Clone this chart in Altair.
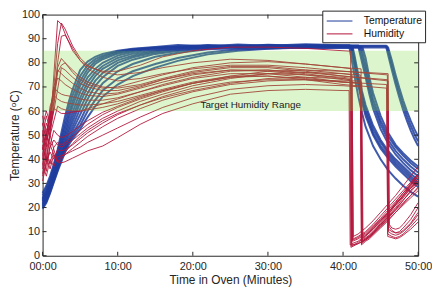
import altair as alt
import pandas as pd

# ---------------- data ----------------
SERIES = ["Temperature", "Humidity"]
COLORS = ["#1f3d9d", "#b3173c"]
X_TICKS = [0, 10, 20, 30, 40, 50]
Y_TICKS = [0, 10, 20, 30, 40, 50, 60, 70, 80, 90, 100]
BAND_LOW = [60]
BAND_HIGH = [85]
BAND_START = [0]
BAND_END = [50]
BAND_LABEL = ["Target Humidity Range"]
BAND_LABEL_T = [27.7]
BAND_LABEL_V = [62.5]

# temperature curves: values on a shared time grid up to 40 min
TEMP_GRID = [0, 0.5, 1, 1.5, 2, 2.5, 3, 3.5, 4, 5, 6, 7, 8, 10, 12, 15, 18, 22, 26, 30, 35, 40]
TEMP_RISE = [
    [26, 29, 33, 38, 44, 51, 58, 64, 69, 77, 80.5, 82.5, 83.7, 85, 85.8, 86.6, 87.4, 86.9, 87.6, 87.1, 87.7, 87.3],
    [25, 28, 32, 37, 43, 49, 55.5, 61.5, 66.5, 74.5, 79, 81.5, 83, 84.7, 85.6, 86.4, 86.7, 87.4, 86.9, 87.5, 87.0, 87.2],
    [24, 27, 31, 36, 41.5, 47.5, 53.5, 59, 64, 72.5, 77.5, 80.5, 82.3, 84.3, 85.3, 86.2, 86.9, 86.6, 87.3, 86.8, 87.4, 87.1],
    [23.5, 26.5, 30, 35, 40.5, 46, 51.5, 57, 62, 70.5, 76, 79.5, 81.5, 83.8, 85, 86, 86.4, 87.2, 86.7, 87.4, 86.8, 87.1],
    [23, 26, 29.5, 34, 39.5, 45, 50, 55, 59.5, 68, 74, 77.5, 80, 83, 84.5, 85.7, 86.6, 86.5, 87.1, 86.6, 87.2, 86.9],
    [22.5, 25.5, 29, 33.5, 38.5, 43.5, 48.5, 53, 57.5, 65.5, 72, 76, 78.7, 82, 83.8, 85.2, 85.9, 86.9, 86.5, 87.2, 86.6, 86.8],
    [22, 25, 28.5, 33, 38, 42.5, 47, 51.5, 55.5, 63.5, 70, 74.5, 77.5, 81, 83, 84.8, 85.8, 86.2, 86.9, 86.4, 87.1, 86.9],
    [21.5, 24, 28, 32.5, 37, 41.5, 46, 50, 53.5, 61, 67.5, 72.5, 75.8, 80, 82.3, 84.3, 85.3, 86.5, 86.3, 86.9, 86.4, 86.6],
    [21, 23.5, 27.5, 32, 36.5, 41, 45, 48.5, 52, 58.5, 65, 70.5, 74, 78.7, 81.3, 83.7, 84.9, 86.1, 86.7, 86.2, 86.8, 86.5],
    [20.5, 23, 27, 31.5, 36, 40.5, 44.5, 47.5, 50.5, 56, 62.5, 67.5, 71.5, 76.5, 79.5, 82.5, 84.2, 85.6, 86.0, 86.6, 86.1, 86.4],
    [20, 22.5, 26.5, 31, 35.5, 40, 44, 47, 49.5, 54, 60, 64.5, 68.5, 73.5, 76.5, 79.5, 82, 84.3, 85.6, 85.9, 86.5, 86.3],
    [19.5, 22, 26, 30.5, 35, 39, 43, 46, 48.5, 52.5, 57.5, 62, 66, 71, 74.5, 78, 80.8, 83.5, 85, 85.8, 86.3, 86.2],
]
# after the oven door opens (drop time first)
TEMP_TAIL_T = [
    [40.8, 41.5, 42, 42.5, 43, 44, 45, 46, 47, 48, 49, 50],
    [42.0, 43, 43.5, 44, 45, 46, 47, 48, 49, 50],
    [41.0, 41.5, 42, 42.5, 43, 44, 45, 46, 47, 48, 49, 50],
    [45.7, 46.5, 47, 47.5, 48, 48.5, 49, 49.5, 50],
    [42.2, 43, 43.5, 44, 45, 46, 47, 48, 49, 50],
    [41.1, 41.5, 42, 42.5, 43, 44, 45, 46, 47, 48, 49, 50],
    [45.85, 46.5, 47, 47.5, 48, 48.5, 49, 49.5, 50],
    [42.4, 43, 43.5, 44, 45, 46, 47, 48, 49, 50],
    [41.2, 41.5, 42, 42.5, 43, 44, 45, 46, 47, 48, 49, 50],
    [46.0, 46.5, 47, 47.5, 48, 48.5, 49, 49.5, 50],
    [42.6, 43, 43.5, 44, 45, 46, 47, 48, 49, 50],
    [41.3, 41.5, 42, 42.5, 43, 44, 45, 46, 47, 48, 49, 50],
]
TEMP_TAIL_V = [
    [87.3, 75, 66.5, 59.5, 53.5, 45.5, 40, 35.5, 32, 29, 26.5, 24.5],
    [87.2, 74, 67, 61, 52.5, 46.5, 42, 38.5, 35.5, 33],
    [87.1, 79, 71, 64, 58, 50, 44.5, 40.5, 37, 34, 31, 28.5],
    [87.1, 77, 71, 65.5, 60.5, 56, 52, 48.5, 45.5],
    [86.9, 76.5, 69, 63, 54.5, 48, 43.5, 40, 37, 34.5],
    [86.8, 80.5, 72.5, 65.5, 59.5, 51, 45.5, 41.5, 38, 35, 32, 29.5],
    [86.9, 79, 73, 67.5, 62.5, 58, 54, 50.5, 47.5],
    [86.6, 79, 71.5, 65, 56, 49.5, 45, 41.5, 38.5, 36],
    [86.5, 82, 74, 67, 61, 52.5, 47, 42.5, 39, 36, 33, 30.5],
    [86.4, 81, 75, 69.5, 64.5, 60, 56, 52.5, 49.5],
    [86.3, 82, 74, 67.5, 58, 51, 46, 42.5, 39.5, 37],
    [86.2, 83.5, 75.5, 68.5, 62.5, 54, 48, 43.5, 40, 37, 34, 31.5],
]

# humidity curves
HUM_GRID = [0, 0.5, 1, 1.5, 2, 2.5, 3, 4, 5, 6, 8, 10, 13, 16, 20, 25, 30, 35, 40]
HUM_RISE = [
    [45, 40, 52, 75, 97.5, 96, 92, 85, 81, 78.5, 76.5, 76.5, 79, 82.5, 85, 86.5, 86.5, 86, 85],
    [42, 50, 58, 70, 88, 96.5, 94, 87, 82, 79, 76, 75, 76, 78, 80, 81.5, 81, 79.5, 78],
    [38, 46, 55, 66, 80, 91, 91.5, 86, 81, 77.5, 74, 72.5, 73.5, 75.5, 77.5, 79, 79, 78, 76.5],
    [50, 58, 52, 64, 78, 81.8, 80, 76, 73, 71, 69.5, 70, 72.5, 75, 78, 80, 80.5, 79.5, 78],
    [55, 48, 60, 70, 76, 79, 80, 77, 74, 72, 70, 69.5, 71, 73.5, 76.5, 78.5, 78.5, 77, 75.5],
    [47, 55, 50, 62, 77, 75.5, 74, 71.5, 69.5, 68, 67, 67.5, 70, 73, 76, 78, 78, 76.5, 74.5],
    [52, 45, 58, 68, 73.7, 72.5, 71, 69, 67.5, 66.5, 66, 67, 69.5, 72, 75, 77, 77, 75.5, 73.5],
    [44, 52, 56, 70, 68, 67, 66.5, 66, 65, 64.5, 64.5, 65.5, 68, 70.5, 73.5, 75.5, 75.5, 74, 72],
    [58, 50, 62, 66.5, 65, 64, 63.5, 63, 62.5, 62.5, 63, 64, 66.5, 69, 72, 74.5, 74.5, 73, 71],
    [40, 48, 53, 60, 69, 78, 77, 74, 71.5, 70, 68.5, 68.5, 70.5, 73, 75.5, 77, 76.5, 75, 73],
    [46, 39, 50, 56, 62, 61, 60.5, 60, 60, 60.5, 61.5, 63, 66, 68.5, 71.5, 74, 74.5, 73.5, 72],
    [54, 60, 55, 61, 60, 59, 59, 59.5, 60, 61, 63, 65, 68, 71, 74, 76.5, 77, 76, 74.5],
    [36, 44, 50, 44, 39, 41, 43, 46.5, 49.5, 52, 56, 59, 62.5, 65.5, 68.5, 71.5, 73.5, 74, 73.5],
    [42, 35, 46, 42, 38.5, 40, 42, 44.5, 47, 49.5, 53.5, 57, 61, 64.5, 68, 71, 72.5, 73, 72.5],
    [31, 38, 45, 48, 46, 45, 46, 48, 50.5, 53, 57, 60, 64, 67, 70.5, 73.5, 75.5, 76, 75.5],
    [50, 42, 38, 45, 47, 46, 47, 49.5, 52, 54.5, 58.5, 61.5, 65, 68, 71.5, 74.5, 76.5, 77, 76.5],
    [34, 41, 36, 42, 39, 38.5, 39, 40.5, 42, 43.5, 45.5, 49, 54.5, 59, 63, 67, 68.5, 69, 68.5],
    [38, 33, 40, 37, 41, 41.5, 42, 43.5, 45, 47, 50, 53, 57.5, 61.5, 65.5, 69, 70.5, 71, 70.5],
    [44, 50, 46, 52, 50, 49, 49.5, 51.5, 54, 56, 59.5, 62, 65.5, 68.5, 71.5, 74, 75.5, 75, 74],
    [33, 39, 43, 40, 44, 43.5, 44, 46, 48.5, 51, 55, 58.5, 62.5, 66, 69.5, 72, 73, 73, 72],
]
HUM_TAIL_T = [
    [41.0, 41.15, 42, 43, 44, 45, 46, 47, 48, 49, 50],
    [42.4, 42.55, 43, 43.5, 44, 45, 46, 47, 48, 49, 50],
    [45.9, 46.05, 46.5, 47, 47.5, 48, 49, 50],
    [41.1, 41.25, 42, 43, 44, 45, 46, 47, 48, 49, 50],
    [42.3, 42.45, 43, 43.5, 44, 45, 46, 47, 48, 49, 50],
    [46.0, 46.15, 46.5, 47, 47.5, 48, 49, 50],
    [40.9, 41.05, 42, 43, 44, 45, 46, 47, 48, 49, 50],
    [42.5, 42.65, 43, 43.5, 44, 45, 46, 47, 48, 49, 50],
    [45.8, 45.95, 46.5, 47, 47.5, 48, 49, 50],
    [41.2, 41.35, 42, 43, 44, 45, 46, 47, 48, 49, 50],
    [42.3, 42.45, 43, 43.5, 44, 45, 46, 47, 48, 49, 50],
    [45.9, 46.05, 46.5, 47, 47.5, 48, 49, 50],
    [41.0, 41.15, 42, 43, 44, 45, 46, 47, 48, 49, 50],
    [42.4, 42.55, 43, 43.5, 44, 45, 46, 47, 48, 49, 50],
    [41.2, 41.35, 42, 43, 44, 45, 46, 47, 48, 49, 50],
    [46.0, 46.15, 46.5, 47, 47.5, 48, 49, 50],
    [40.8, 40.95, 42, 43, 44, 45, 46, 47, 48, 49, 50],
    [42.4, 42.55, 43, 43.5, 44, 45, 46, 47, 48, 49, 50],
    [41.1, 41.25, 42, 43, 44, 45, 46, 47, 48, 49, 50],
    [45.8, 45.95, 46.5, 47, 47.5, 48, 49, 50],
]
HUM_TAIL_V = [
    [84.8, 4, 5.5, 8, 11, 14, 17.5, 21, 24.5, 28, 31],
    [77.5, 6, 7, 8, 9.5, 13, 16.5, 20, 24, 28, 32],
    [75, 10, 9, 8.5, 9, 10, 13, 17],
    [77.5, 6, 7, 9, 12, 15, 18, 21.5, 25, 28.5, 32],
    [75, 5, 6.5, 7.5, 9, 12, 15.5, 19, 23, 27, 31],
    [72.5, 12, 10.5, 9.5, 9.5, 10.5, 13.5, 18],
    [73, 3.5, 5, 7, 10, 13, 16, 19, 22, 25, 28],
    [71.5, 7.5, 8.5, 9.5, 11, 14.5, 18, 22, 26, 30, 34],
    [69.5, 8, 7.5, 7, 7.5, 8.5, 11, 14],
    [72.5, 7, 8, 10, 13, 16.5, 20, 23.5, 27, 30.5, 34],
    [71.5, 4.5, 6, 7, 8.5, 11.5, 14.5, 18, 21.5, 25, 28.5],
    [73, 11, 10, 9.5, 10, 11.5, 15, 20],
    [73, 5, 6, 8.5, 11.5, 14.5, 18, 21.5, 25, 29, 33],
    [72.5, 6.5, 7.5, 8.5, 10, 13.5, 17, 21, 25, 29.5, 34],
    [75, 8, 9, 11.5, 14.5, 18, 21.5, 25, 29, 33, 37],
    [75.5, 13, 11.5, 11, 11.5, 13, 17, 22],
    [68.5, 4.5, 5, 6.5, 9, 12, 15, 18, 21, 24, 27],
    [70, 5.5, 7, 8, 9.5, 12.5, 16, 19.5, 23, 26.5, 30],
    [73.5, 6.5, 7.5, 9.5, 12.5, 15.5, 19, 22.5, 26, 29.5, 33],
    [71, 9, 8, 7.5, 8, 9, 12, 15.5],
]

# ---------------- build tables ----------------
def build(series, grid, rises, tails_t, tails_v):
    rows = []
    for i, (rise, tt, tv) in enumerate(zip(rises, tails_t, tails_v)):
        for t, v in zip(list(grid) + list(tt), list(rise) + list(tv)):
            rows.append({"t": t, "v": v, "series": series, "curve": f"{series}{i}"})
    return pd.DataFrame(rows)

temp_df = build(SERIES[0], TEMP_GRID, TEMP_RISE, TEMP_TAIL_T, TEMP_TAIL_V)
hum_df = build(SERIES[1], HUM_GRID, HUM_RISE, HUM_TAIL_T, HUM_TAIL_V)
band_df = pd.DataFrame({"t": BAND_START, "t1": BAND_END, "v": BAND_LOW, "v1": BAND_HIGH})
label_df = pd.DataFrame({"t": BAND_LABEL_T, "v": BAND_LABEL_V, "text": BAND_LABEL})
xt_df = pd.DataFrame({"t": X_TICKS})
yt_df = pd.DataFrame({"v": Y_TICKS})

W, H = 380, 244
FONT = "Liberation Sans"
INK = "#262626"

xscale = alt.Scale(domain=[0, 50], nice=False)
yscale = alt.Scale(domain=[0, 100], nice=False)
cscale = alt.Scale(domain=SERIES, range=COLORS)

x_axis = alt.Axis(
    values=X_TICKS,
    labelExpr="(datum.value < 10 ? '0' : '') + datum.value + ':00'",
    title="Time in Oven (Minutes)",
    ticks=False, domain=False, grid=False,
    labelFontSize=11, titleFontSize=12, labelPadding=5, titlePadding=3,
    labelFont=FONT, titleFont=FONT, titleFontWeight="normal",
    labelColor=INK, titleColor=INK, labelFlush=False,
)
y_axis = alt.Axis(
    values=Y_TICKS,
    title="Temperature (\u1d52C)",
    ticks=False, domain=False, grid=False,
    labelFontSize=11, titleFontSize=12, labelPadding=3, titlePadding=0,
    labelFont=FONT, titleFont=FONT, titleFontWeight="normal",
    labelColor=INK, titleColor=INK,
)

legend = alt.Legend(
    title=None, orient="none", legendX=283, legendY=-4,
    fillColor="white", strokeColor=INK, padding=3,
    labelFont=FONT, labelFontSize=10.5, labelColor="#111",
    symbolType="M-2,0H2", symbolSize=169, symbolStrokeWidth=1.2,
    symbolOffset=7, labelOffset=17, rowPadding=0, cornerRadius=0,
)

X = lambda f: alt.X(f, scale=xscale, axis=x_axis)
Y = lambda f: alt.Y(f, scale=yscale, axis=y_axis)

temp_lines = alt.Chart(temp_df).mark_line(strokeWidth=2.0, opacity=0.85).encode(
    x=X("t:Q"), y=Y("v:Q"),
    color=alt.Color("series:N", scale=cscale, legend=legend),
    detail="curve:N",
)
hum_lines = alt.Chart(hum_df).mark_line(strokeWidth=1.0, opacity=0.9).encode(
    x=X("t:Q"), y=Y("v:Q"),
    color=alt.Color("series:N", scale=cscale, legend=legend),
    detail="curve:N",
)
band = alt.Chart(band_df).mark_rect(color="#73d733", opacity=0.25).encode(
    x=X("t:Q"), x2="t1:Q", y=Y("v:Q"), y2="v1:Q",
)
label = alt.Chart(label_df).mark_text(font=FONT, fontSize=10, color="#1a1a1a").encode(
    x=X("t:Q"), y=Y("v:Q"), text="text:N",
)
tick_bottom = alt.Chart(xt_df).mark_rule(color=INK, strokeWidth=1).encode(
    x=X("t:Q"), y=alt.value(H), y2=alt.value(H - 4))
tick_top = alt.Chart(xt_df).mark_rule(color=INK, strokeWidth=1).encode(
    x=X("t:Q"), y=alt.value(0), y2=alt.value(4))
tick_left = alt.Chart(yt_df).mark_rule(color=INK, strokeWidth=1).encode(
    y=Y("v:Q"), x=alt.value(0), x2=alt.value(4))
tick_right = alt.Chart(yt_df).mark_rule(color=INK, strokeWidth=1).encode(
    y=Y("v:Q"), x=alt.value(W), x2=alt.value(W - 4))

chart = alt.layer(
    temp_lines, hum_lines, band, label, tick_bottom, tick_top, tick_left, tick_right
).properties(
    width=W, height=H,
    autosize=alt.AutoSizeParams(type="none"),
    padding={"left": 35, "top": 5, "right": 14, "bottom": 34},
    background="white",
).configure_view(stroke=INK, strokeWidth=1)

chart.save("out.html", embed_options={"renderer": "svg", "actions": False})
